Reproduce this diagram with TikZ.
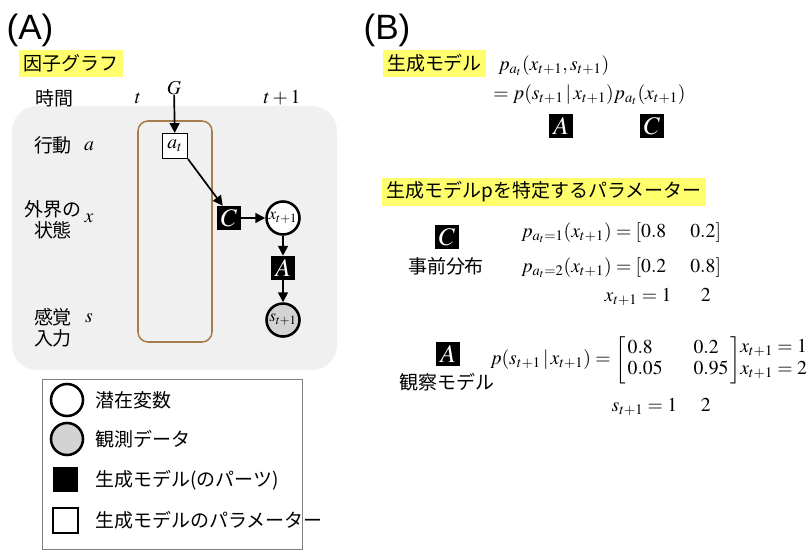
\documentclass[tikz,border=0pt]{standalone}
\usepackage{amsmath}
\usepackage{mathptmx}
\usepackage[no-math]{fontspec}
\setmainfont{Noto Sans CJK JP}
\newfontfamily\panelfont{Liberation Sans}
\usetikzlibrary{arrows.meta,positioning}
\definecolor{hilite}{HTML}{FFFF6E}
\definecolor{panelgray}{HTML}{F0F0F0}
\definecolor{platebrown}{HTML}{A67C4C}
\definecolor{obsgray}{HTML}{D3D3D3}
\newcommand{\jtext}{\fontsize{13.5}{15}\selectfont}
\newcommand{\mtext}{\fontsize{14}{16}\selectfont}
\tikzstyle{panel} = [font=\panelfont\fontsize{25}{25}\selectfont]
\tikzstyle{hl} = [fill=hilite, inner xsep=3.2pt, inner ysep=0pt,
minimum height=0.675cm, font=\jtext]
\tikzstyle{lab} = [font=\jtext, align=center, inner sep=0pt]
\tikzstyle{math} = [font=\mtext, inner sep=0pt]
\tikzstyle{param} = [rectangle, draw, fill=white, minimum size=0.625cm,
inner sep=0pt, line width=0.8pt, font=\mtext]
\tikzstyle{part} = [rectangle, fill=black, text=white, minimum size=0.6cm,
inner sep=0pt, font=\fontsize{18}{18}\selectfont]
\tikzstyle{latent} = [circle, draw, fill=white, minimum size=0.825cm,
inner sep=0pt, line width=1.8pt, font=\fontsize{12}{12}\selectfont]
\tikzstyle{observed} = [latent, fill=obsgray]
\tikzstyle{line} = [draw, -{Triangle[length=7pt, width=7pt]}, line width=1.2pt]

\begin{document}
\begin{tikzpicture}[x=0.025cm, y=-0.025cm]
\useasboundingbox (0,0) rectangle (811,551);
% (A) factor graph
\node [panel] (panelA) at (30,30) {(A)};
\node [hl] (titleA) at (71,63.5) {因子グラフ};
\fill [panelgray, rounded corners=0.625cm] (12,106) rectangle (337,370);
\draw [platebrown, line width=1.1pt, rounded corners=0.25cm] (138,121) rectangle (212,342);
\node [lab] (time) at (54,98) {時間};
\node [math] (tnow) at (138,98) {$t$};
\node [math] (tnext) at (282,98) {$t+1$};
\node [math] (goal) at (174,88) {$G$};
\node [lab] (rowa) at (53,145) {行動};
\node [math] (syma) at (89,146) {$a$};
\node [lab] (rowx) at (53,220) {外界の\\状態};
\node [math] (symx) at (89,218) {$x$};
\node [lab] (rows) at (53,328) {感覚\\入力};
\node [math] (syms) at (89,318) {$s$};
% Place nodes
\node [param] (at) at (175,146) {$a_t$};
\node [part] (Cpart) at (229,218) {$C$};
\node [latent, right of=Cpart, node distance=1.35cm] (xnext) {$x_{t+1}$};
\node [part, below of=xnext, node distance=1.25cm] (Apart) {$A$};
\node [observed, below of=Apart, node distance=1.3cm] (snext) {$s_{t+1}$};
\path [line] (goal) -- (at);
\path [line] (at.south east) -- ([xshift=0.15cm]Cpart.north west);
\path [line] (Cpart) -- (xnext);
\path [line] (xnext) -- (Apart);
\path [line] (Apart) -- (snext);
% legend
\draw [gray, line width=0.6pt] (42,379) rectangle (302,549);
\node [latent, minimum size=0.8cm] (keylat) at (67,400) {};
\node [observed, minimum size=0.8cm] (keyobs) at (67,439) {};
\node [part, minimum size=0.625cm] (keypart) at (65.5,479.5) {};
\node [param] (keyparam) at (65.5,520.5) {};
\node [lab, anchor=west] (txtlat) at (95,400) {潜在変数};
\node [lab, anchor=west] (txtobs) at (95,439) {観測データ};
\node [lab, anchor=west] (txtpart) at (95,480) {生成モデル(のパーツ)};
\node [lab, anchor=west] (txtparam) at (95,520) {生成モデルのパラメーター};
% (B) generative model
\node [panel] (panelB) at (387,30) {(B)};
\node [hl] (titleB) at (434.5,63.5) {生成モデル};
\node [math, anchor=west] (joint) at (498,66) {$p_{a_t}(x_{t+1}, s_{t+1})$};
\node [math, anchor=west] (factor) at (493,95)
{$= p(s_{t+1}\,|\,x_{t+1}) p_{a_t}(x_{t+1})$};
\node [part] (Aeq) at (561,126) {$A$};
\node [part] (Ceq) at (652,126) {$C$};
\node [hl] (titleparam) at (544,192) {生成モデルpを特定するパラメーター};
\node [part] (Cprior) at (447,237) {$C$};
\node [lab] (txtprior) at (446,266) {事前分布};
\node [math, anchor=west] (prior1) at (521,233)
{$p_{a_t=1}(x_{t+1}) = [0.8\quad\; 0.2]$};
\node [math, anchor=west] (prior2) at (521,268)
{$p_{a_t=2}(x_{t+1}) = [0.2\quad\; 0.8]$};
\node [math, anchor=east] (priorx) at (711,297) {$x_{t+1} = 1\hspace{1.5em}2$};
\node [part] (Aobs) at (448,354) {$A$};
\node [lab] (txtobsmodel) at (447,382) {観察モデル};
\node [math, anchor=west] (obs) at (490,360)
{$p(s_{t+1}\,|\,x_{t+1}) = \renewcommand{\arraystretch}{0.95}
\left[\begin{array}{@{\,}l@{\hspace{22pt}}l@{\,}}0.8 & 0.2\\ 0.05 & 0.95\end{array}\right]$};
\node [math, anchor=west] (obsx) at (740,359)
{$\begin{array}{@{}l@{}}x_{t+1} = 1\\ x_{t+1} = 2\end{array}$};
\node [math, anchor=east] (obss) at (711,407) {$s_{t+1} = 1\hspace{1.2em}2$};
\end{tikzpicture}
\end{document}
